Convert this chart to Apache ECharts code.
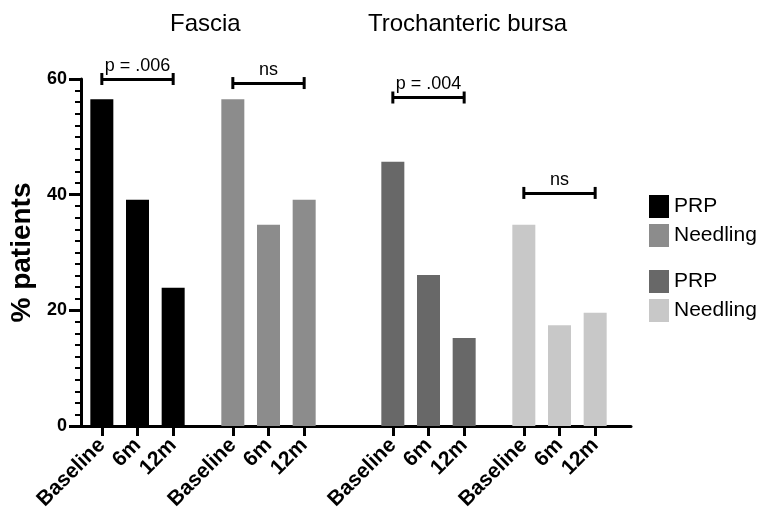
<!DOCTYPE html>
<html>
<head>
<meta charset="utf-8">
<script src="https://cdn.jsdelivr.net/npm/echarts@6/dist/echarts.min.js"></script>
<style>
  html, body { margin: 0; padding: 0; background: #fff; }
  #main { width: 763px; height: 519px; }
</style>
</head>
<body>
<div id="main"></div>
<script>
var timepoints = ['Baseline', '6m', '12m'];
var fasciaPRP = [56.5, 39.1, 23.9];
var fasciaNeedling = [56.5, 34.8, 39.1];
var bursaPRP = [45.7, 26.1, 15.2];
var bursaNeedling = [34.8, 17.4, 19.6];
var groupNames = ['Fascia PRP', 'Fascia Needling', 'Bursa PRP', 'Bursa Needling'];
var groupData = [fasciaPRP, fasciaNeedling, bursaPRP, bursaNeedling];
var groupColors = ['#000000', '#8c8c8c', '#686868', '#c8c8c8'];
var pLabels = ['p = .006', 'ns', 'p = .004', 'ns'];
var pLevels = [60, 59.3, 56.8, 40.3];

var font = 'Liberation Sans, Arial, Helvetica, sans-serif';
var gridLefts = [84, 215, 375, 506];

var myChart = echarts.init(document.getElementById('main'));

// grid 0 only carries the y axis and the long x axis line
var grids = [{ left: 79, top: 79, width: 552, height: 347 }];
var xAxes = [{
    gridIndex: 0, type: 'value', min: 0, max: 1,
    axisLine: { show: true, lineStyle: { color: '#000', width: 3 } },
    axisTick: { show: false }, axisLabel: { show: false }, splitLine: { show: false }
}];
var yAxes = [{
    gridIndex: 0, type: 'value', min: 0, max: 60, interval: 20,
    axisLine: { show: true, lineStyle: { color: '#000', width: 3 } },
    axisTick: { show: true, inside: false, length: 12, lineStyle: { color: '#000', width: 3 } },
    minorTick: { show: true, splitNumber: 10, length: 6, lineStyle: { color: '#000', width: 2 } },
    splitLine: { show: false },
    axisLabel: { color: '#000', fontWeight: 'bold', fontSize: 18, fontFamily: font, margin: 14 },
    name: '% patients', nameLocation: 'middle', nameGap: 45,
    nameTextStyle: { color: '#000', fontWeight: 'bold', fontSize: 28, fontFamily: font }
}];
var series = [];

// one small grid per group of bars
groupData.forEach(function (vals, i) {
    grids.push({ left: gridLefts[i], top: 79, width: 107, height: 347 });
    xAxes.push({
        gridIndex: i + 1, type: 'category', data: timepoints,
        axisLine: { show: false },
        axisTick: { show: true, alignWithLabel: true, length: 10, lineStyle: { color: '#000', width: 3 } },
        axisLabel: { rotate: 45, color: '#000', fontWeight: 'bold', fontSize: 21, fontFamily: font, margin: 16, interval: 0 }
    });
    yAxes.push({ gridIndex: i + 1, type: 'value', min: 0, max: 60, show: false });
    series.push({
        name: groupNames[i],
        type: 'bar',
        xAxisIndex: i + 1,
        yAxisIndex: i + 1,
        barWidth: 23,
        itemStyle: { color: groupColors[i] },
        data: vals,
        markLine: {
            silent: true,
            symbol: ['rect', 'rect'],
            symbolSize: [12, 3],
            lineStyle: { color: '#000', width: 3, type: 'solid' },
            label: {
                show: true, position: 'middle', formatter: pLabels[i],
                color: '#000', fontSize: 18, fontFamily: font, distance: 4
            },
            data: [[{ coord: ['Baseline', pLevels[i]] }, { coord: ['12m', pLevels[i]] }]]
        }
    });
});

var legendBase = {
    orient: 'vertical', left: 649, padding: 0,
    icon: 'rect', itemWidth: 20, itemHeight: 23, itemGap: 6,
    formatter: function (n) { return n.split(' ')[1]; },
    textStyle: { fontSize: 21, color: '#000', fontFamily: font }
};

var option = {
    animation: false,
    backgroundColor: '#fff',
    title: [
        { text: 'Fascia', left: 170, top: 12, padding: 0, textStyle: { fontSize: 24, fontWeight: 'normal', color: '#000', fontFamily: font } },
        { text: 'Trochanteric bursa', left: 368, top: 12, padding: 0, textStyle: { fontSize: 24, fontWeight: 'normal', color: '#000', fontFamily: font } }
    ],
    legend: [
        Object.assign({ data: ['Fascia PRP', 'Fascia Needling'], top: 195 }, legendBase),
        Object.assign({ data: ['Bursa PRP', 'Bursa Needling'], top: 270 }, legendBase)
    ],
    grid: grids,
    xAxis: xAxes,
    yAxis: yAxes,
    series: series
};
myChart.setOption(option);
</script>
</body>
</html>
